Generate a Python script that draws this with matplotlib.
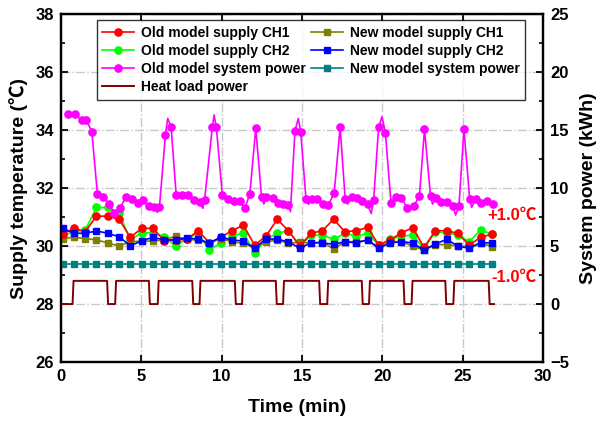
import numpy as np
import matplotlib
matplotlib.use("Agg")
import matplotlib.pyplot as plt
from matplotlib.ticker import MultipleLocator

plt.rcParams['font.family'] = ['Liberation Sans', 'Noto Sans CJK SC', 'DejaVu Sans']
plt.rcParams['font.weight'] = 'bold'

# ---------------- data ----------------
supply_time = [0.1 + 0.703 * i for i in range(39)]

old_ch1 = [30.41, 30.61, 30.50, 31.03, 31.03, 30.92, 30.30, 30.61, 30.61, 30.18,
           30.21, 30.23, 30.53, 30.11, 30.30, 30.53, 30.72, 30.03, 30.34, 30.92,
           30.53, 30.00, 30.44, 30.53, 30.92, 30.49, 30.53, 30.64, 30.03, 30.21,
           30.46, 30.63, 29.95, 30.53, 30.53, 30.44, 30.03, 30.30, 30.41]
old_ch2 = [30.35, 30.50, 30.55, 31.33, 31.33, 31.13, 30.21, 30.46, 30.46, 30.32,
           30.00, 30.25, 30.44, 29.86, 30.11, 30.35, 30.45, 29.77, 30.23, 30.44,
           30.53, 30.00, 30.38, 30.38, 30.23, 30.44, 30.34, 30.44, 30.03, 30.23,
           30.34, 30.38, 29.90, 30.49, 30.46, 30.38, 30.15, 30.55, 30.42]
new_ch1 = [30.26, 30.30, 30.26, 30.21, 30.11, 30.00, 30.15, 30.17, 30.17, 30.21,
           30.34, 30.23, 30.20, 30.11, 30.25, 30.15, 30.09, 29.93, 30.15, 30.20,
           30.10, 30.13, 30.10, 30.15, 29.89, 30.15, 30.15, 30.20, 29.95, 30.15,
           30.15, 30.00, 29.86, 30.05, 30.05, 30.00, 29.98, 30.10, 29.98]
new_ch2 = [30.61, 30.44, 30.44, 30.52, 30.44, 30.32, 30.01, 30.18, 30.30, 30.21,
           30.21, 30.28, 30.24, 30.10, 30.31, 30.21, 30.17, 29.93, 30.24, 30.24,
           30.14, 29.93, 30.11, 30.11, 30.06, 30.15, 30.11, 30.21, 29.92, 30.11,
           30.15, 30.11, 29.86, 30.07, 30.23, 30.00, 29.92, 30.11, 30.11]
new_power = [3.45] * 39

old_power_time = [0.456, 0.875, 1.294, 1.581, 1.919, 2.269, 2.625, 3.0, 3.313, 3.669,
                  4.044, 4.394, 4.769, 5.081, 5.456, 5.813, 6.0, 6.125, 6.5, 6.644,
                  6.856, 7.169, 7.544, 7.894, 8.269, 8.625, 8.831, 8.9375, 9.419, 9.53,
                  9.669, 10.044, 10.394, 10.75, 11.125, 11.4375, 11.75, 12.125, 12.48, 12.625,
                  12.79, 13.17, 13.52, 13.83, 14.16, 14.28, 14.5625, 14.77, 14.92, 15.25,
                  15.41, 15.61, 15.96, 16.29, 16.64, 17.0, 17.375, 17.69, 17.84, 18.11,
                  18.42, 18.73, 19.08, 19.31, 19.46, 19.77, 19.98, 20.19, 20.54, 20.875,
                  21.19, 21.56, 21.96, 22.31, 22.625, 23.0, 23.125, 23.31, 23.67, 24.04,
                  24.39, 24.56, 24.77, 25.08, 25.44, 25.56, 25.81, 26.17, 26.54, 26.92]
old_power = [16.38, 16.38, 15.86, 15.86, 14.85, 9.46, 9.20, 8.62, 7.82, 8.25,
             9.25, 9.05, 8.68, 8.97, 8.45, 8.39, 7.90, 8.33, 14.57, 16.00,
             15.23, 9.40, 9.40, 9.40, 8.97, 8.82, 8.25, 8.97, 15.23, 16.30,
             15.23, 9.40, 9.05, 8.88, 8.88, 8.25, 9.46, 15.15, 9.25, 8.62,
             9.25, 9.17, 8.73, 8.62, 8.55, 7.96, 14.94, 16.00, 14.85, 9.03,
             8.60, 9.03, 9.03, 8.62, 8.55, 9.54, 15.23, 9.03, 8.62, 9.20,
             9.10, 8.90, 8.62, 7.80, 8.97, 15.23, 16.15, 14.77, 8.73, 9.20,
             9.15, 8.25, 8.45, 9.31, 15.06, 9.31, 8.62, 9.10, 8.82, 8.82,
             8.45, 7.67, 8.45, 15.06, 9.03, 8.33, 9.03, 8.73, 8.88, 8.62]
# 1 = sample shown with a marker, 0 = line vertex only
old_power_marked = [1, 1, 1, 1, 1, 1, 1, 1, 1, 1,
                    1, 1, 1, 1, 1, 1, 0, 1, 1, 0,
                    1, 1, 1, 1, 1, 1, 0, 1, 1, 0,
                    1, 1, 1, 1, 1, 1, 1, 1, 1, 0,
                    1, 1, 1, 1, 1, 0, 1, 0, 1, 1,
                    0, 1, 1, 1, 1, 1, 1, 1, 0, 1,
                    1, 1, 1, 0, 1, 1, 0, 1, 1, 1,
                    1, 1, 1, 1, 1, 1, 0, 1, 1, 1,
                    1, 0, 1, 1, 1, 0, 1, 1, 1, 1]

heat_on = [0.75, 3.4, 6.05, 8.65, 11.3, 13.85, 16.6, 19.2, 21.85, 24.45]
heat_off = [2.9, 5.5, 8.2, 10.85, 13.4, 16.1, 18.75, 21.35, 23.95, 26.65]
heat_level = 2.0
heat_start, heat_end = 0.1, 26.95

# build heat-load square wave
ramp = 0.06
hl_t, hl_v = [heat_start], [0.0]
for on, off in zip(heat_on, heat_off):
    hl_t += [on - ramp / 2, on + ramp / 2, off - ramp / 2, off + ramp / 2]
    hl_v += [0.0, heat_level, heat_level, 0.0]
hl_t.append(heat_end)
hl_v.append(0.0)

# ---------------- plot ----------------
fig = plt.figure(figsize=(5.98, 4.21), dpi=100)
ax1 = fig.add_axes([0.102, 0.140, 0.806, 0.8267])
ax2 = ax1.twinx()

lw = 1.2
h1, = ax1.plot(supply_time, old_ch1, color='#ff0000', lw=lw, marker='o', ms=5.2,
               label='Old model supply CH1', zorder=3)
h2, = ax1.plot(supply_time, old_ch2, color='#00ff00', lw=lw, marker='o', ms=5.2,
               label='Old model supply CH2', zorder=2)
h5, = ax1.plot(supply_time, new_ch1, color='#808000', lw=lw, marker='s', ms=4.4,
               label='New model supply CH1', zorder=2)
h6, = ax1.plot(supply_time, new_ch2, color='#0000ff', lw=lw, marker='s', ms=4.4,
               label='New model supply CH2', zorder=4)

mark_idx = [i for i, m in enumerate(old_power_marked) if m]
h3, = ax2.plot(old_power_time, old_power, color='#ff00ff', lw=lw, marker='o', ms=5.2,
               markevery=mark_idx, label='Old model system power')
h7, = ax2.plot(supply_time, new_power, color='#008080', lw=lw, marker='s', ms=4.4,
               label='New model system power')
h4, = ax2.plot(hl_t, hl_v, color='#800000', lw=1.4, label='Heat load power')

ax1.set_xlim(0, 30)
ax1.set_ylim(26, 38)
ax2.set_ylim(-5, 25)

ax1.xaxis.set_major_locator(MultipleLocator(5))
ax1.yaxis.set_major_locator(MultipleLocator(2))
ax1.yaxis.set_minor_locator(MultipleLocator(1))
ax2.yaxis.set_major_locator(MultipleLocator(5))
ax2.yaxis.set_minor_locator(MultipleLocator(2.5))

ax1.grid(True, which='major', color='#c8c8c8', linestyle='-.', linewidth=1.0)
ax1.set_axisbelow(True)

for ax in (ax1, ax2):
    for s in ax.spines.values():
        s.set_linewidth(1.6)
ax1.tick_params(axis='both', which='major', direction='in', length=5, width=1.3,
                labelsize=12, pad=5, top=True)
ax1.tick_params(axis='y', which='minor', direction='in', length=3, width=1.2)
ax2.tick_params(axis='y', which='major', direction='in', length=5, width=1.3,
                labelsize=12, pad=5)
ax2.tick_params(axis='y', which='minor', direction='in', length=3, width=1.2)
for lab in ax1.get_xticklabels() + ax1.get_yticklabels() + ax2.get_yticklabels():
    lab.set_fontweight('bold')

ax1.set_xlabel('Time (min)', fontsize=14, fontweight='bold')
ax1.set_ylabel('Supply temperature (℃)', fontsize=14, fontweight='bold')
ax2.set_ylabel('System power (kWh)', fontsize=14, fontweight='bold')
ax1.yaxis.set_label_coords(-0.0685, 0.5)
ax2.yaxis.set_label_coords(1.077, 0.5)
ax1.xaxis.set_label_coords(0.49, -0.105)

ax1.text(29.6, 31.07, '+1.0℃', color='#ff0000', fontsize=12, fontweight='bold',
         ha='right', va='center')
ax1.text(29.6, 28.93, '-1.0℃', color='#ff0000', fontsize=12, fontweight='bold',
         ha='right', va='center')

handles = [h1, h2, h3, h4, h5, h6, h7]
leg = ax2.legend(handles=handles, loc='upper left', bbox_to_anchor=(0.074, 0.982),
                 borderaxespad=0, ncol=2, frameon=True, fancybox=False,
                 edgecolor='black', handlelength=2.3, labelspacing=0.3,
                 columnspacing=0.35, handletextpad=0.5, borderpad=0.4,
                 prop={'weight': 'bold', 'size': 10})
leg.get_frame().set_linewidth(1.0)

fig.savefig('out.png', dpi=100)
